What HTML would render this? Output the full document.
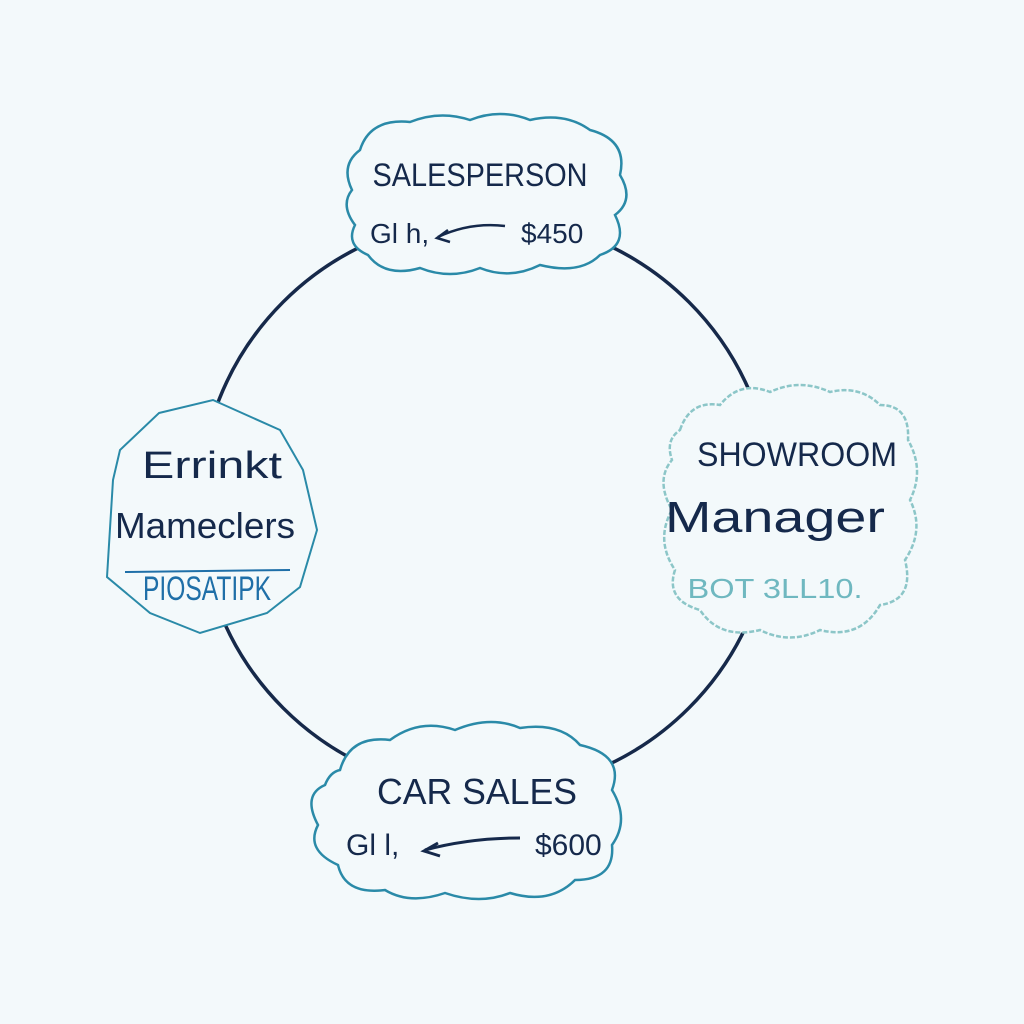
<!DOCTYPE html>
<html><head><style>
html,body{margin:0;padding:0;background:#f3f9fb;}
svg{display:block}
text{font-family:"Liberation Sans",sans-serif;fill:#15294b}
</style></head><body>
<svg width="1024" height="1024" viewBox="0 0 1024 1024">
<rect width="1024" height="1024" fill="#f3f9fb"/>
<circle cx="486" cy="505" r="287" fill="none" stroke="#16294a" stroke-width="3.5"/>
<!-- top cloud -->
<path d="M360,150 Q370,118 410,122 Q440,110 470,120 Q500,108 530,120 Q565,112 590,130 Q628,140 620,175 Q635,200 615,215 Q630,245 600,255 Q580,275 540,265 Q510,280 480,268 Q450,280 420,268 Q385,278 368,255 Q345,245 355,225 Q340,205 352,190 Q340,165 360,150Z" fill="#f3f9fb" stroke="#2a8aa8" stroke-width="2.5"/>
<text x="480" y="186" font-size="32" text-anchor="middle" textLength="215" lengthAdjust="spacingAndGlyphs">SALESPERSON</text>
<text x="370" y="243" font-size="28">Gl h,</text>
<path d="M438,237 Q470,222 505,226" fill="none" stroke="#15294b" stroke-width="2.5"/>
<path d="M448,230 L437,238 L450,242" fill="none" stroke="#15294b" stroke-width="2.5"/>
<text x="521" y="243" font-size="28">$450</text>
<!-- left octagon -->
<path d="M159,413 L213,400 L280,430 L303,470 L317,530 L300,587 L267,613 L200,633 L150,613 L107,577 L113,480 L120,450Z" fill="#f3f9fb" stroke="#2a8aa8" stroke-width="2"/>
<text x="212" y="478" font-size="38" text-anchor="middle" textLength="140" lengthAdjust="spacingAndGlyphs">Errinkt</text>
<text x="205" y="538" font-size="36" text-anchor="middle" textLength="180" lengthAdjust="spacingAndGlyphs">Mameclers</text>
<text x="207" y="600" font-size="34" text-anchor="middle" style="fill:#1f6fa8" textLength="128" lengthAdjust="spacingAndGlyphs">PIOSATIPK</text>
<line x1="125" y1="572" x2="290" y2="570" stroke="#1f6fa8" stroke-width="2"/>
<!-- right cloud -->
<path d="M680,430 Q690,400 720,405 Q740,380 770,392 Q800,378 830,392 Q860,385 880,405 Q910,405 908,440 Q925,470 910,500 Q925,530 905,560 Q915,600 880,605 Q860,640 820,630 Q790,645 760,630 Q720,640 700,610 Q665,600 675,570 Q655,540 672,510 Q655,480 672,460 Q665,440 680,430Z" fill="#f3f9fb" stroke="#8cc6c8" stroke-width="2.5" stroke-dasharray="5 2"/>
<text x="797" y="466" font-size="34" text-anchor="middle" textLength="200" lengthAdjust="spacingAndGlyphs">SHOWROOM</text>
<text x="775" y="532" font-size="44" text-anchor="middle" textLength="220" lengthAdjust="spacingAndGlyphs">Manager</text>
<text x="775" y="598" font-size="28" text-anchor="middle" style="fill:#6fb8c0" textLength="175" lengthAdjust="spacingAndGlyphs">BOT 3LL10.</text>
<!-- bottom cloud -->
<path d="M340,770 Q350,735 390,740 Q420,718 455,730 Q490,715 520,728 Q560,722 580,745 Q625,755 612,790 Q630,820 612,845 Q615,880 575,880 Q550,905 510,893 Q480,905 445,893 Q410,905 385,890 Q345,895 338,865 Q305,850 318,825 Q302,795 325,785 Q330,772 340,770Z" fill="#f3f9fb" stroke="#2a8aa8" stroke-width="2.5"/>
<text x="477" y="804" font-size="36" text-anchor="middle" textLength="200" lengthAdjust="spacingAndGlyphs">CAR SALES</text>
<text x="346" y="855" font-size="30">Gl l,</text>
<path d="M425,850 Q470,838 520,838" fill="none" stroke="#15294b" stroke-width="3"/>
<path d="M438,843 L424,851 L440,856" fill="none" stroke="#15294b" stroke-width="3"/>
<text x="535" y="855" font-size="30">$600</text>
</svg>
</body></html>
